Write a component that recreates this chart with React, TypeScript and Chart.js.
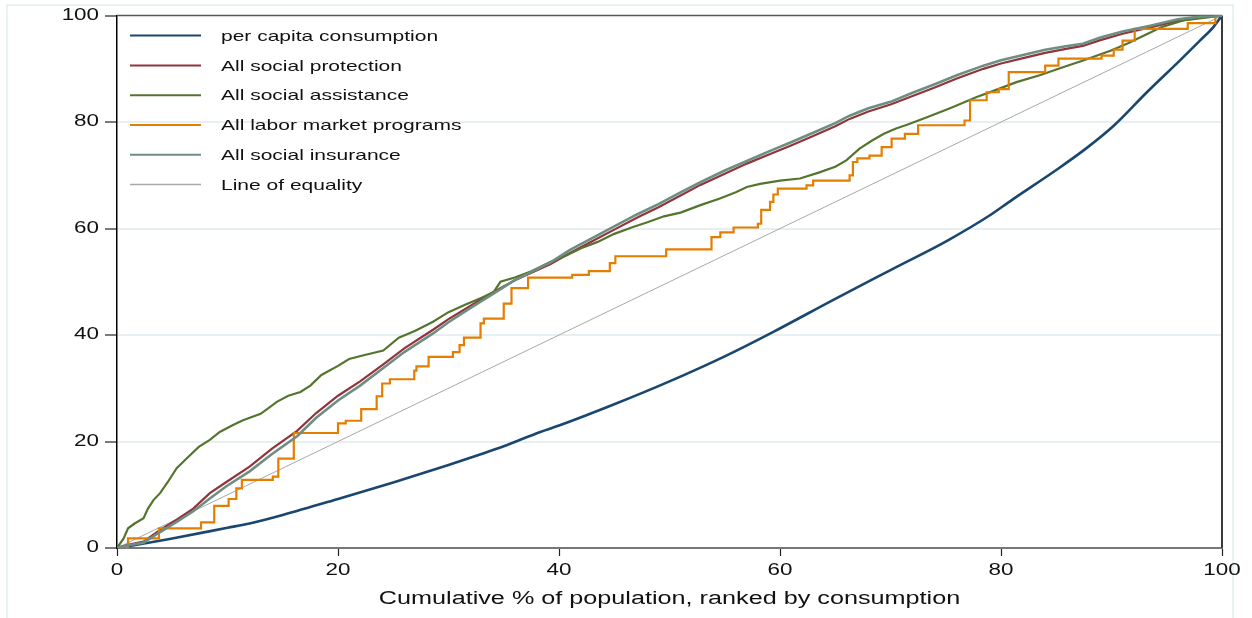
import React, { useEffect, useRef } from 'react';
import { Chart, registerables } from 'chart.js';

Chart.register(...registerables);

// ---------- data ----------
const seriesLabels = [
  'per capita consumption',
  'All social protection',
  'All social assistance',
  'All labor market programs',
  'All social insurance',
  'Line of equality',
];

const consumptionX = [0, 5, 10, 12, 15, 20, 25, 30, 35, 38.3, 40, 45, 50, 55, 59.4, 65, 70, 75.2, 79, 81, 85, 87.8, 90.2, 93.2, 96.2, 98.0, 99.2, 100];
const consumptionY = [0, 1.8, 3.8, 4.6, 6.2, 9.2, 12.3, 15.6, 19.1, 21.8, 23.0, 27.0, 31.3, 36.0, 40.6, 46.8, 52.2, 57.8, 62.5, 65.4, 71.0, 75.2, 79.3, 85.6, 91.6, 95.3, 97.8, 100];

const protectionX = [0, 1, 2.4, 3.9, 5.4, 6.9, 8.4, 9.9, 12, 14, 16.3, 18, 20, 22, 24.1, 26, 28.6, 30, 32, 34, 36, 39.2, 41, 43, 45, 47, 49, 51, 52.8, 55, 57, 59, 61, 63, 65, 66.3, 68, 70, 72, 74, 76, 78.4, 80, 82, 84, 86, 87.4, 89, 91, 93.5, 96, 98, 100];
const protectionY = [0, 0.6, 1.2, 3.4, 5.3, 7.4, 10.3, 12.4, 15.3, 18.6, 22.0, 25.3, 28.6, 31.3, 34.5, 37.5, 41.0, 43.0, 45.5, 48.0, 50.3, 53.3, 55.4, 57.6, 59.8, 62.0, 64.0, 66.2, 68.2, 70.3, 72.2, 73.9, 75.6, 77.4, 79.2, 80.6, 82.0, 83.3, 84.9, 86.5, 88.2, 90.0, 91.0, 92.0, 93.0, 93.8, 94.3, 95.4, 96.6, 97.8, 99.0, 99.6, 100];

const assistanceX = [0, 0.6, 1.0, 1.6, 2.4, 2.8, 3.3, 3.9, 4.6, 5.4, 6.3, 7.4, 8.4, 9.3, 10.5, 11.4, 13, 14.5, 15.5, 16.6, 17.5, 18.5, 20, 21, 22.5, 24.1, 25.5, 27, 28.6, 30, 31.5, 33, 34.1, 34.7, 36, 37.5, 39.2, 40.7, 42, 43.5, 45, 46.7, 48, 49.5, 51, 52.8, 54.5, 56, 57, 58.2, 60, 61.8, 63.5, 65, 66, 67.2, 68.3, 69.4, 70.5, 71.5, 73.3, 75.5, 77.8, 79.5, 81.4, 83.5, 85.6, 87.5, 89.9, 91.5, 92.9, 94.5, 96.5, 98.5, 100];
const assistanceY = [0, 1.8, 3.7, 4.6, 5.6, 7.4, 9.0, 10.3, 12.4, 15.0, 16.8, 19.0, 20.3, 21.8, 23.1, 24.0, 25.2, 27.5, 28.6, 29.3, 30.5, 32.5, 34.2, 35.5, 36.3, 37.1, 39.5, 40.8, 42.5, 44.3, 45.7, 47.0, 48.1, 50.0, 50.8, 52.0, 53.7, 55.0, 56.3, 57.5, 59.0, 60.3, 61.2, 62.3, 63.0, 64.4, 65.6, 66.8, 67.8, 68.4, 69.0, 69.4, 70.5, 71.6, 72.8, 75.0, 76.5, 77.8, 78.8, 79.5, 80.9, 82.7, 84.7, 86.0, 87.5, 88.8, 90.3, 91.6, 93.4, 94.8, 96.2, 97.8, 99.1, 99.6, 100];

// step points: x where the value jumps, y = new value
const laborX = [0, 1.0, 3.8, 7.6, 8.8, 10.1, 10.8, 11.3, 14.1, 14.6, 16.0, 20.0, 20.7, 22.1, 23.5, 24.0, 24.7, 26.9, 27.1, 28.2, 30.4, 31.0, 31.4, 32.9, 33.2, 35.0, 35.7, 37.2, 41.2, 42.7, 44.6, 45.1, 49.7, 53.8, 54.6, 55.8, 58.0, 58.3, 59.1, 59.4, 59.8, 62.4, 63.0, 66.3, 66.6, 67.0, 68.1, 69.2, 70.1, 71.3, 72.5, 76.7, 77.2, 78.7, 79.8, 80.7, 84.0, 85.2, 89.1, 90.2, 91.0, 92.1, 96.9, 99.4, 100];
const laborY = [0, 1.8, 3.7, 4.8, 7.9, 9.2, 11.2, 12.8, 13.4, 16.8, 21.6, 23.4, 23.9, 26.1, 28.5, 30.9, 31.7, 33.3, 34.1, 35.9, 36.8, 38.1, 39.5, 42.2, 43.1, 45.9, 48.8, 50.8, 51.3, 52.0, 53.5, 54.8, 56.1, 58.4, 59.3, 60.2, 60.9, 63.5, 65.0, 66.4, 67.5, 68.1, 69.0, 70.0, 72.5, 73.2, 73.7, 75.3, 76.9, 77.8, 79.4, 80.3, 84.1, 85.6, 86.2, 89.4, 90.6, 91.9, 92.5, 93.6, 95.3, 97.5, 98.6, 100, 100];

const insuranceX = [0, 1, 2.4, 3.9, 5.4, 6.9, 8.4, 9.9, 12, 14, 16.3, 18, 20, 22, 24.1, 26, 28.6, 30, 32, 34, 36, 39.2, 41, 43, 45, 47, 49, 51, 52.8, 55, 57, 59, 61, 63, 65, 66.3, 68, 70, 72, 74, 76, 78.4, 80, 82, 84, 86, 87.4, 89, 91, 93.5, 96, 98, 100];
const insuranceY = [0, 0.5, 1.0, 3.0, 4.9, 6.9, 9.3, 11.6, 14.4, 17.6, 21.0, 24.4, 27.7, 30.5, 33.8, 36.8, 40.3, 42.4, 45.1, 47.7, 50.3, 53.6, 56.0, 58.2, 60.4, 62.6, 64.6, 66.8, 68.7, 70.9, 72.7, 74.5, 76.2, 78.0, 79.8, 81.2, 82.6, 83.8, 85.5, 87.1, 88.8, 90.6, 91.6, 92.6, 93.6, 94.3, 94.7, 95.9, 97.0, 98.1, 99.3, 99.8, 100];

const equalityX = [0, 100];
const equalityY = [0, 100];

const axisTicks = [0, 20, 40, 60, 80, 100];
const xTitle = 'Cumulative % of population, ranked by consumption';

// ---------- styles ----------
const FONT = '"Liberation Sans", Arial, Helvetica, sans-serif';
const SX = 1.4; // horizontal text stretch of the reference export
const colors = ['#1a476f', '#90353b', '#55752f', '#e37e00', '#6e8e84', '#a8a8a8'];
const widths = [2.6, 2.2, 2.2, 2.2, 2.6, 1];

const pts = (xs: number[], ys: number[]) => xs.map((x, i) => ({ x, y: ys[i] }));

function patchContext(ctx: any) {
  if (ctx.__stretched) return;
  ctx.__stretched = true;
  const origFill = ctx.fillText.bind(ctx);
  const origMeasure = ctx.measureText.bind(ctx);
  ctx.fillText = (text: string, x: number, y: number, maxWidth?: number) => {
    ctx.save();
    ctx.translate(x, y);
    ctx.scale(SX, 1);
    if (maxWidth === undefined || maxWidth === null) origFill(text, 0, 0);
    else origFill(text, 0, 0, maxWidth / SX);
    ctx.restore();
  };
  ctx.measureText = (text: string) => {
    const m = origMeasure(text);
    return {
      width: m.width * SX,
      actualBoundingBoxAscent: m.actualBoundingBoxAscent,
      actualBoundingBoxDescent: m.actualBoundingBoxDescent,
      actualBoundingBoxLeft: m.actualBoundingBoxLeft * SX,
      actualBoundingBoxRight: m.actualBoundingBoxRight * SX,
      fontBoundingBoxAscent: m.fontBoundingBoxAscent,
      fontBoundingBoxDescent: m.fontBoundingBoxDescent,
    };
  };
}

const framePlugin = {
  id: 'stataFrame',
  beforeDraw(chart: any) {
    const { ctx, width, height } = chart;
    ctx.save();
    ctx.fillStyle = '#ffffff';
    ctx.fillRect(0, 0, width, height);
    ctx.strokeStyle = '#eaf1f3';
    ctx.lineWidth = 2;
    ctx.strokeRect(7, 5, 1226, height + 10);
    ctx.restore();
  },
  beforeDatasetsDraw(chart: any) {
    const { ctx, chartArea } = chart;
    ctx.save();
    ctx.strokeStyle = '#555555';
    ctx.lineWidth = 1.5;
    ctx.beginPath();
    ctx.moveTo(chartArea.left, chartArea.top);
    ctx.lineTo(chartArea.right, chartArea.top);
    ctx.stroke();
    ctx.strokeStyle = '#3a3a3a';
    ctx.lineWidth = 2;
    ctx.beginPath();
    ctx.moveTo(chartArea.right, chartArea.top);
    ctx.lineTo(chartArea.right, chartArea.bottom);
    ctx.stroke();
    ctx.restore();
  },
};

const legendPlugin = {
  id: 'stataLegend',
  afterDraw(chart: any) {
    const { ctx, chartArea } = chart;
    ctx.save();
    ctx.font = `15px ${FONT}`;
    ctx.textBaseline = 'middle';
    ctx.textAlign = 'left';
    ctx.fillStyle = '#111111';
    chart.data.datasets.forEach((ds: any, i: number) => {
      const y = chartArea.top + 20 + i * 29.8;
      ctx.strokeStyle = ds.borderColor;
      ctx.lineWidth = i === 5 ? 1.5 : 2;
      ctx.beginPath();
      ctx.moveTo(chartArea.left + 13, y);
      ctx.lineTo(chartArea.left + 84, y);
      ctx.stroke();
      ctx.fillText(ds.label, chartArea.left + 104, y + 1);
    });
    ctx.restore();
  },
};

export default function App() {
  const ref = useRef<HTMLCanvasElement>(null);

  useEffect(() => {
    const canvas = ref.current;
    if (!canvas) return;
    const ctx = canvas.getContext('2d');
    if (!ctx) return;
    patchContext(ctx);

    const xsList = [consumptionX, protectionX, assistanceX, laborX, insuranceX, equalityX];
    const ysList = [consumptionY, protectionY, assistanceY, laborY, insuranceY, equalityY];

    const datasets = seriesLabels.map((label, i) => ({
      label,
      data: pts(xsList[i], ysList[i]),
      borderColor: colors[i],
      backgroundColor: colors[i],
      borderWidth: widths[i],
      pointRadius: 0,
      tension: 0,
      cubicInterpolationMode: i === 0 ? ('monotone' as const) : ('default' as const),
      fill: false,
      stepped: i === 3 ? ('before' as const) : false,
      order: i === 5 ? 10 : 6 - i,
    }));

    const chart = new Chart(ctx, {
      type: 'line',
      data: { datasets },
      options: {
        animation: false,
        responsive: true,
        maintainAspectRatio: false,
        layout: { padding: { left: 0, right: 30, top: 14, bottom: 0 } },
        plugins: { legend: { display: false }, tooltip: { enabled: false } },
        scales: {
          x: {
            type: 'linear',
            min: 0,
            max: 100,
            afterBuildTicks: (scale: any) => {
              scale.ticks = axisTicks.map((v) => ({ value: v }));
            },
            afterFit: (scale: any) => {
              scale.height = 70;
            },
            ticks: {
              color: '#111',
              font: { family: FONT, size: 16 },
              padding: 5,
              maxRotation: 0,
              autoSkip: false,
            },
            grid: {
              drawOnChartArea: false,
              drawTicks: true,
              tickLength: 8,
              tickColor: '#222',
              tickWidth: 1.2,
            },
            border: { display: true, color: '#777777', width: 2 },
            title: {
              display: true,
              text: xTitle,
              color: '#111',
              font: { family: FONT, size: 18 },
              padding: { top: 0, bottom: 8 },
            },
          },
          y: {
            type: 'linear',
            min: 0,
            max: 100,
            afterBuildTicks: (scale: any) => {
              scale.ticks = axisTicks.map((v) => ({ value: v }));
            },
            afterFit: (scale: any) => {
              scale.width = 117;
            },
            ticks: {
              color: '#111',
              font: { family: FONT, size: 16 },
              padding: 6,
              autoSkip: false,
            },
            grid: {
              color: (c: any) =>
                c.tick && (c.tick.value === 0 || c.tick.value === 100) ? 'rgba(0,0,0,0)' : '#e8eff2',
              lineWidth: 2,
              drawTicks: true,
              tickLength: 12,
              tickColor: '#222',
              tickWidth: 1.2,
            },
            border: { display: true, color: '#000000', width: 1.5 },
          },
        },
      },
      plugins: [framePlugin, legendPlugin],
    });

    return () => chart.destroy();
  }, []);

  return (
    <div style={{ position: 'fixed', left: 0, top: 0, width: 1252, height: 618, background: '#fff' }}>
      <canvas ref={ref} />
    </div>
  );
}
